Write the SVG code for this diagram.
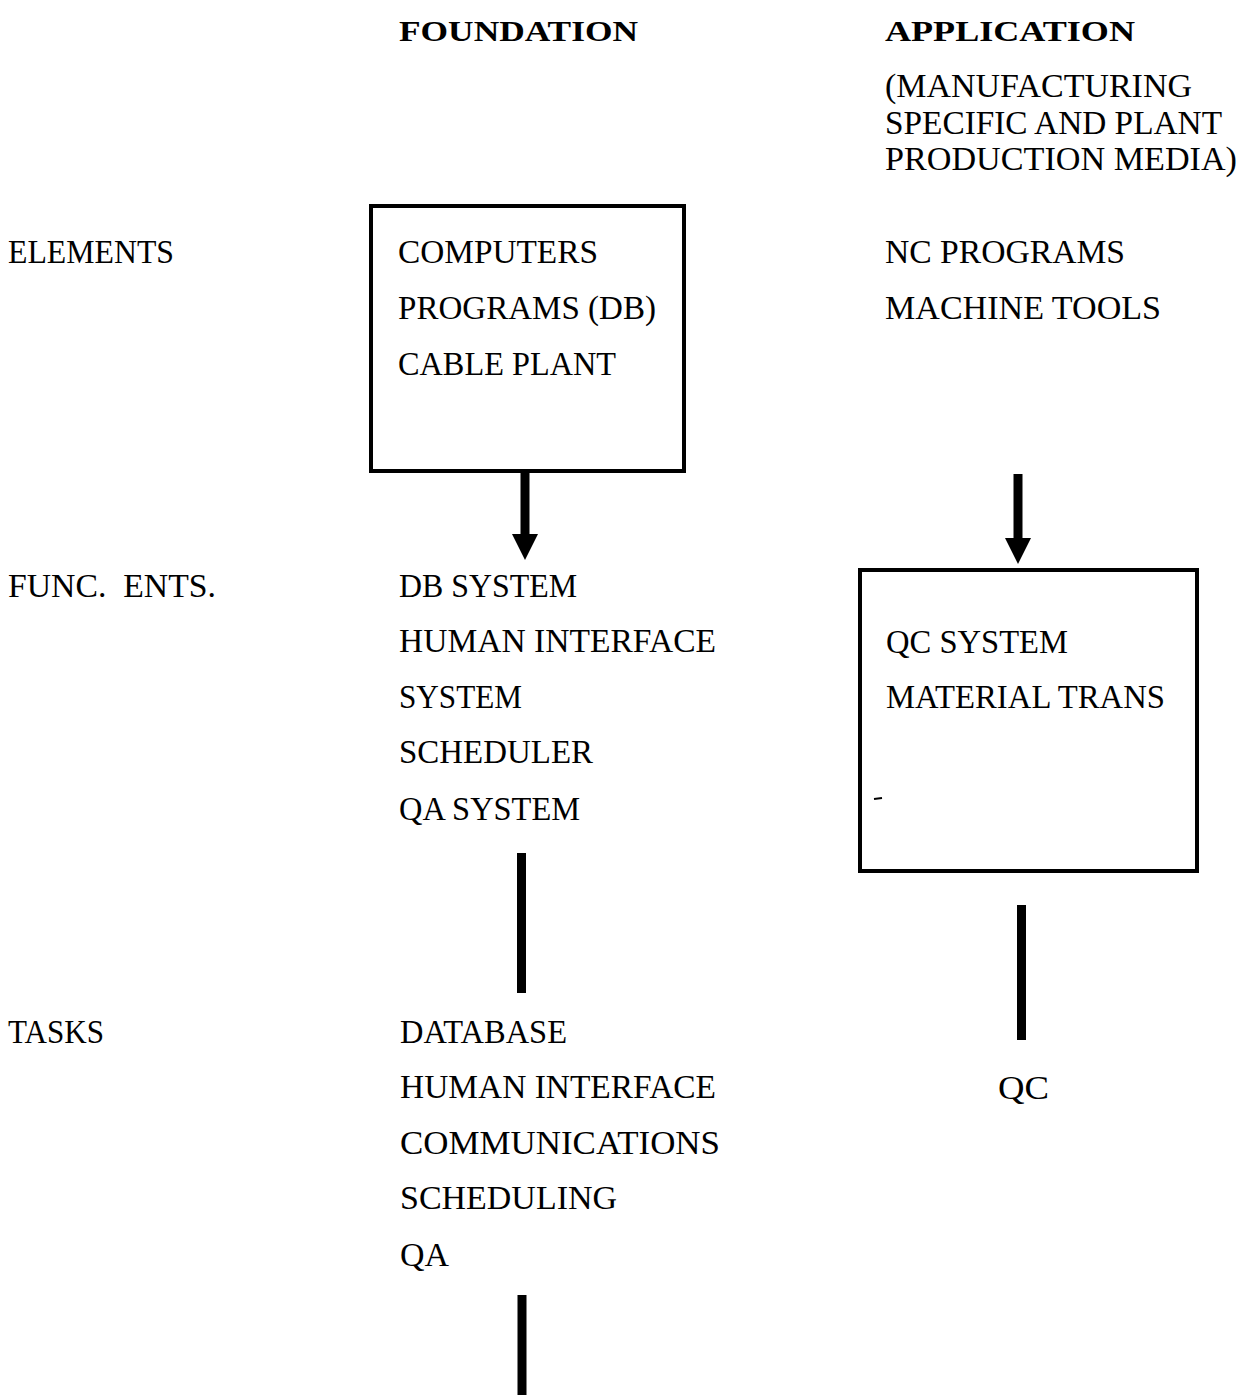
<svg xmlns="http://www.w3.org/2000/svg" width="1243" height="1399" viewBox="0 0 1243 1399">
<style>
text { font-family: "Liberation Serif", "Times New Roman", serif; font-size: 33px; fill: #000; }
.h { font-weight: bold; font-size: 30px; }
.box { fill: none; stroke: #000; stroke-width: 4; }
.ln { stroke: #000; stroke-width: 9; fill: none; }
</style>
<defs>
<marker id="ah" markerWidth="3" markerHeight="3" refX="0" refY="1.5" orient="auto" markerUnits="strokeWidth">
<path d="M0,0 L3,1.5 L0,3 Z" fill="#000"/>
</marker>
</defs>
<rect width="1243" height="1399" fill="#fff"/>
<g id="headers">
<text class="h" x="399" y="41" textLength="239" lengthAdjust="spacingAndGlyphs">FOUNDATION</text>
<text class="h" x="885" y="41" textLength="250" lengthAdjust="spacingAndGlyphs">APPLICATION</text>
<text x="885" y="97" textLength="307" lengthAdjust="spacingAndGlyphs">(MANUFACTURING</text>
<text x="885" y="134" textLength="337" lengthAdjust="spacingAndGlyphs">SPECIFIC AND PLANT</text>
<text x="885" y="170" textLength="352" lengthAdjust="spacingAndGlyphs">PRODUCTION MEDIA)</text>
</g>
<g id="row-labels">
<text x="8" y="263" textLength="166" lengthAdjust="spacingAndGlyphs">ELEMENTS</text>
<text x="8" y="597" textLength="208" lengthAdjust="spacingAndGlyphs" xml:space="preserve">FUNC.  ENTS.</text>
<text x="8" y="1043" textLength="96" lengthAdjust="spacingAndGlyphs">TASKS</text>
</g>
<g id="foundation-elements">
<rect class="box" x="371" y="206" width="313" height="265"/>
<text x="398" y="263" textLength="200" lengthAdjust="spacingAndGlyphs">COMPUTERS</text>
<text x="398" y="319" textLength="258" lengthAdjust="spacingAndGlyphs">PROGRAMS (DB)</text>
<text x="398" y="375" textLength="218" lengthAdjust="spacingAndGlyphs">CABLE PLANT</text>
</g>
<g id="application-elements">
<text x="885" y="263" textLength="240" lengthAdjust="spacingAndGlyphs">NC PROGRAMS</text>
<text x="885" y="319" textLength="276" lengthAdjust="spacingAndGlyphs">MACHINE TOOLS</text>
</g>
<g id="foundation-func">
<text x="399" y="597" textLength="178" lengthAdjust="spacingAndGlyphs">DB SYSTEM</text>
<text x="399" y="652" textLength="317" lengthAdjust="spacingAndGlyphs">HUMAN INTERFACE</text>
<text x="399" y="708" textLength="123" lengthAdjust="spacingAndGlyphs">SYSTEM</text>
<text x="399" y="763" textLength="194" lengthAdjust="spacingAndGlyphs">SCHEDULER</text>
<text x="399" y="820" textLength="181" lengthAdjust="spacingAndGlyphs">QA SYSTEM</text>
</g>
<g id="application-func">
<rect class="box" x="860" y="570" width="337" height="301"/>
<text x="886" y="653" textLength="182" lengthAdjust="spacingAndGlyphs">QC SYSTEM</text>
<text x="886" y="708" textLength="279" lengthAdjust="spacingAndGlyphs">MATERIAL TRANS</text>
<line x1="874" y1="799" x2="882" y2="798" stroke="#000" stroke-width="2"/>
</g>
<g id="foundation-tasks">
<text x="400" y="1043" textLength="167" lengthAdjust="spacingAndGlyphs">DATABASE</text>
<text x="400" y="1098" textLength="316" lengthAdjust="spacingAndGlyphs">HUMAN INTERFACE</text>
<text x="400" y="1154" textLength="320" lengthAdjust="spacingAndGlyphs">COMMUNICATIONS</text>
<text x="400" y="1209" textLength="217" lengthAdjust="spacingAndGlyphs">SCHEDULING</text>
<text x="400" y="1266" textLength="49" lengthAdjust="spacingAndGlyphs">QA</text>
</g>
<g id="application-tasks">
<text x="998" y="1099" textLength="51" lengthAdjust="spacingAndGlyphs">QC</text>
</g>
<g id="connectors">
<line class="ln" x1="525" y1="471" x2="525" y2="536"/>
<polygon points="512,534 538,534 525,560" fill="#000"/>
<line class="ln" x1="1018" y1="474" x2="1018" y2="540"/>
<polygon points="1005,538 1031,538 1018,564" fill="#000"/>
<line class="ln" x1="521.5" y1="853" x2="521.5" y2="993"/>
<line class="ln" x1="1021.5" y1="905" x2="1021.5" y2="1040"/>
<line class="ln" x1="522" y1="1295" x2="522" y2="1395"/>
</g>
</svg>
